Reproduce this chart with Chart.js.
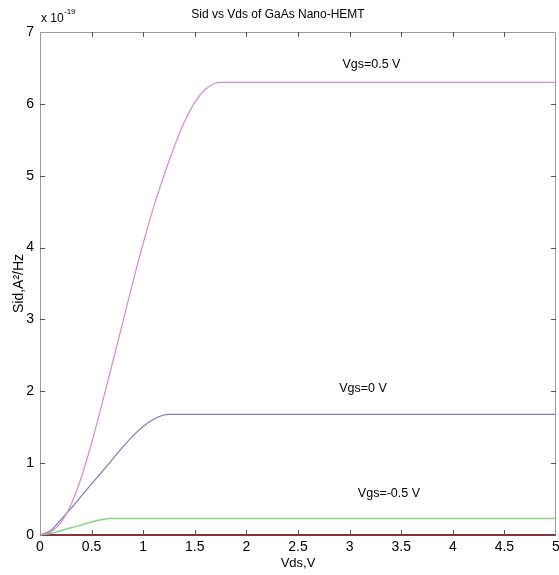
<!DOCTYPE html>
<html>
<head>
<meta charset="utf-8">
<script src="https://cdn.jsdelivr.net/npm/chart.js@4"></script>
<style>
html,body{margin:0;padding:0;background:#fff;}
#wrap{width:559px;height:575px;}
</style>
</head>
<body>
<div id="wrap"><canvas id="c" width="559" height="575"></canvas></div>
<script>
// Vds values (V) and Sid values (x 1e-19 A^2/Hz)
const vdsP05 = [0, 0.1, 0.2, 0.3, 0.4, 0.5, 0.6, 0.7, 0.8, 0.9, 1.0, 1.1, 1.2, 1.3, 1.4, 1.5, 1.6, 1.7, 1.75, 5];
const sidP05 = [0, 0.04, 0.17, 0.42, 0.80, 1.28, 1.82, 2.38, 2.95, 3.52, 4.06, 4.56, 5.0, 5.4, 5.75, 6.02, 6.2, 6.29, 6.3, 6.3];
const vdsZero = [0, 0.1, 0.2, 0.3, 0.4, 0.5, 0.6, 0.7, 0.8, 0.9, 1.0, 1.1, 1.2, 1.25, 5];
const sidZero = [0, 0.06, 0.21, 0.37, 0.54, 0.71, 0.88, 1.05, 1.22, 1.38, 1.51, 1.61, 1.67, 1.68, 1.68];
const vdsM05 = [0, 0.1, 0.2, 0.3, 0.4, 0.5, 0.6, 0.68, 5];
const sidM05 = [0, 0.02, 0.06, 0.10, 0.14, 0.18, 0.215, 0.23, 0.23];
const vdsM1 = [0, 5];
const sidM1 = [0, 0];
const seriesLabels = ['Vgs=0.5 V', 'Vgs=0 V', 'Vgs=-0.5 V', 'Vgs=-1 V'];
const xTicks = [0, 0.5, 1, 1.5, 2, 2.5, 3, 3.5, 4, 4.5, 5];
const yTicks = [0, 1, 2, 3, 4, 5, 6, 7];

const zip = (xs, ys) => xs.map((x, i) => ({x: x, y: ys[i]}));

const FONT = 'Liberation Sans, Arial, sans-serif';

const boxPlugin = {
  id: 'boxPlugin',
  afterDatasetsDraw(chart) {
    const ctx = chart.ctx;
    const xs = chart.scales.x, ys = chart.scales.y;
    const L = xs.left, R = xs.right, T = ys.top, B = ys.bottom;
    ctx.save();
    ctx.strokeStyle = '#9a9a9a';
    ctx.lineWidth = 1;
    // box
    ctx.beginPath();
    ctx.moveTo(L + 0.5, T + 0.5); ctx.lineTo(R - 0.5, T + 0.5);
    ctx.lineTo(R - 0.5, B); ctx.moveTo(L + 0.5, T); ctx.lineTo(L + 0.5, B);
    ctx.stroke();
    // inward ticks
    ctx.strokeStyle = '#555';
    ctx.beginPath();
    xTicks.forEach(v => {
      const px = Math.round(xs.getPixelForValue(v)) + 0.5;
      if (v > 0 && v < 5) {
        ctx.moveTo(px, B); ctx.lineTo(px, B - 5);
        ctx.moveTo(px, T); ctx.lineTo(px, T + 5);
      }
    });
    yTicks.forEach(v => {
      const py = Math.round(ys.getPixelForValue(v)) + 0.5;
      if (v > 0 && v < 7) {
        ctx.moveTo(L, py); ctx.lineTo(L + 5, py);
        ctx.moveTo(R, py); ctx.lineTo(R - 5, py);
      }
    });
    ctx.stroke();
    // series annotations
    ctx.fillStyle = '#000';
    ctx.font = '12.5px ' + FONT;
    ctx.textBaseline = 'middle';
    ctx.textAlign = 'left';
    const notes = [[2.93, 6.55, seriesLabels[0]], [2.9, 2.04, seriesLabels[1]], [3.08, 0.58, seriesLabels[2]]];
    notes.forEach(n => ctx.fillText(n[2], xs.getPixelForValue(n[0]), ys.getPixelForValue(n[1])));
    // exponent
    ctx.font = '12px ' + FONT;
    ctx.fillText('x 10', L + 1, T - 13);
    ctx.font = '8px ' + FONT;
    ctx.fillText('-19', L + 24, T - 20);
    ctx.restore();
  }
};

new Chart(document.getElementById('c'), {
  type: 'line',
  data: {
    datasets: [
      {label: seriesLabels[0], data: zip(vdsP05, sidP05), borderColor: '#d38cd3', borderWidth: 1.2, pointRadius: 0, cubicInterpolationMode: 'monotone', fill: false},
      {label: seriesLabels[1], data: zip(vdsZero, sidZero), borderColor: '#7b7bb5', borderWidth: 1.2, pointRadius: 0, cubicInterpolationMode: 'monotone', fill: false},
      {label: seriesLabels[2], data: zip(vdsM05, sidM05), borderColor: '#86d486', borderWidth: 1.5, pointRadius: 0, cubicInterpolationMode: 'monotone', fill: false},
      {label: seriesLabels[3], data: zip(vdsM1, sidM1), borderColor: '#8a3535', borderWidth: 2, pointRadius: 0, fill: false}
    ]
  },
  options: {
    responsive: false,
    animation: false,
    clip: false,
    layout: {padding: {left: 0, right: 3, top: 0, bottom: 0}},
    plugins: {
      legend: {display: false},
      tooltip: {enabled: false},
      title: {
        display: true,
        text: 'Sid vs Vds of GaAs Nano-HEMT',
        color: '#000',
        font: {family: FONT, size: 12, weight: 'normal'},
        padding: {top: 7, bottom: 10.6}
      }
    },
    scales: {
      x: {
        type: 'linear',
        min: 0, max: 5,
        afterBuildTicks: s => { s.ticks = xTicks.map(v => ({value: v})); },
        afterFit: s => { s.height = 40; s.paddingRight = 0; s.paddingLeft = 0; },
        grid: {display: false, drawTicks: false},
        border: {display: false},
        ticks: {color: '#000', font: {family: FONT, size: 14}, padding: 4, maxRotation: 0,
          callback: v => String(v)},
        title: {display: true, text: 'Vds,V', color: '#000', font: {family: FONT, size: 13}, padding: {top: 0, bottom: 4}}
      },
      y: {
        type: 'linear',
        min: 0, max: 7,
        afterBuildTicks: s => { s.ticks = yTicks.map(v => ({value: v})); },
        afterFit: s => { s.width = 40; s.paddingTop = 0; s.paddingBottom = 0; },
        grid: {display: false, drawTicks: false},
        border: {display: false},
        ticks: {color: '#000', font: {family: FONT, size: 14}, padding: 6,
          callback: v => String(v)},
        title: {display: true, text: 'Sid,A²/Hz', color: '#000', font: {family: FONT, size: 14}, padding: {top: 11, bottom: 0}}
      }
    }
  },
  plugins: [boxPlugin]
});
</script>
</body>
</html>
